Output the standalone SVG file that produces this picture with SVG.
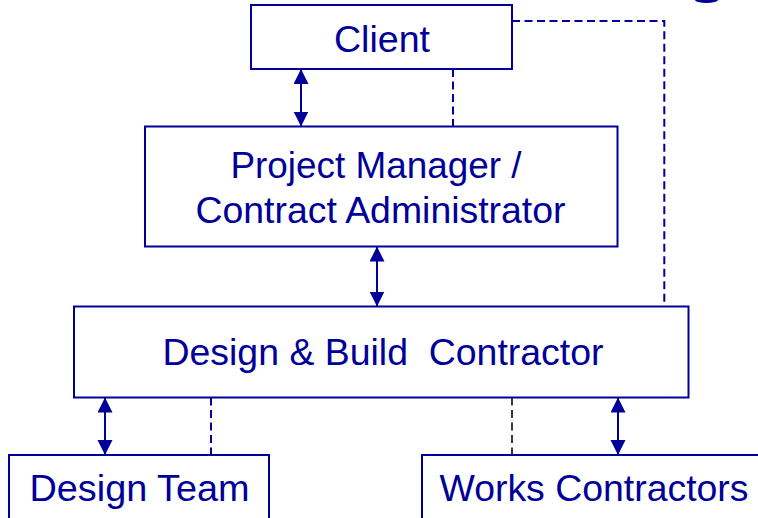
<svg xmlns="http://www.w3.org/2000/svg" width="758" height="518" viewBox="0 0 758 518">
  <style>
    .box { fill: #ffffff; stroke: #000099; stroke-width: 2; }
    .lbl { font-family: "Liberation Sans", Arial, sans-serif; font-size: 36px; fill: #000099; text-anchor: middle; }
    .arr { stroke: #000099; stroke-width: 2; fill: none; marker-start: url(#ah); marker-end: url(#ah); }
    .dash { stroke: #000099; stroke-width: 2; fill: none; stroke-dasharray: 8 4.5; }
    .dashk { stroke: #222222; stroke-width: 1.8; fill: none; stroke-dasharray: 8 4.5; }
  </style>
  <defs>
    <marker id="ah" markerUnits="userSpaceOnUse" markerWidth="16" markerHeight="16" refX="15" refY="7.5" orient="auto-start-reverse">
      <path d="M0,0 L15,7.5 L0,15 Z" fill="#000099"/>
    </marker>
  </defs>
  <rect width="758" height="518" fill="#ffffff"/>
  <ellipse cx="706.5" cy="0" rx="11.5" ry="3" fill="#000099"/>

  <g id="connectors">
    <line class="arr" x1="301" y1="69" x2="301" y2="126.5"/>
    <line class="dash" x1="453" y1="69" x2="453" y2="126.5"/>
    <polyline class="dash" points="512,21 664.3,21 664.3,306.5"/>
    <line class="arr" x1="377" y1="246.5" x2="377" y2="306.5"/>
    <line class="arr" x1="105" y1="397.5" x2="105" y2="455"/>
    <line class="dash" x1="211" y1="397.5" x2="211" y2="455"/>
    <line class="dashk" x1="512" y1="397.5" x2="512" y2="455"/>
    <line class="arr" x1="618" y1="397.5" x2="618" y2="455"/>
  </g>

  <g id="client">
    <rect class="box" x="251" y="5" width="261" height="64"/>
    <text class="lbl" x="382" y="52" font-size="37" textLength="96" lengthAdjust="spacingAndGlyphs">Client</text>
  </g>
  <g id="project-manager">
    <rect class="box" x="145" y="126.5" width="472.5" height="120"/>
    <text class="lbl" x="376" y="177.5" textLength="291" lengthAdjust="spacingAndGlyphs">Project Manager /</text>
    <text class="lbl" x="380.5" y="222.5" textLength="370" lengthAdjust="spacingAndGlyphs">Contract Administrator</text>
  </g>
  <g id="design-build-contractor">
    <rect class="box" x="74" y="306.5" width="614.5" height="91"/>
    <text class="lbl" x="383" y="365" xml:space="preserve" style="white-space:pre" textLength="441" lengthAdjust="spacingAndGlyphs">Design &amp; Build  Contractor</text>
  </g>
  <g id="design-team">
    <rect class="box" x="9" y="455" width="260" height="80"/>
    <text class="lbl" x="139.5" y="500.5" textLength="220" lengthAdjust="spacingAndGlyphs">Design Team</text>
  </g>
  <g id="works-contractors">
    <rect class="box" x="422" y="455" width="350" height="80"/>
    <text class="lbl" x="594" y="500.5" textLength="309" lengthAdjust="spacingAndGlyphs">Works Contractors</text>
  </g>
</svg>
